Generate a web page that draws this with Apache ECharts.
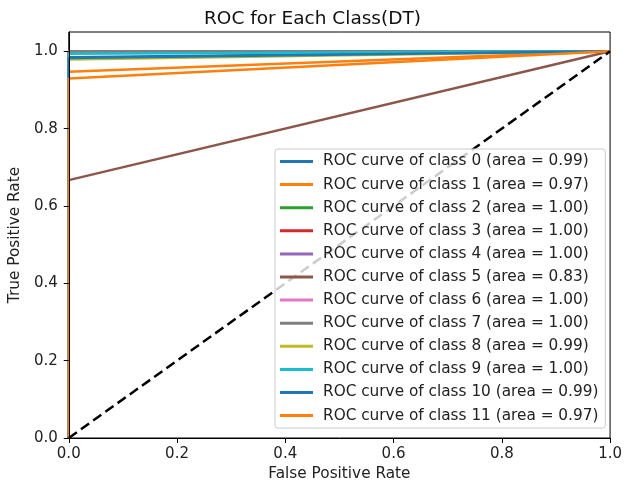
<!DOCTYPE html>
<html><head><meta charset="utf-8">
<script src="https://cdn.jsdelivr.net/npm/echarts@6/dist/echarts.min.js"></script>
<style>html,body{margin:0;padding:0;background:#fff}#c{width:625px;height:489px}</style>
</head><body><div id="c"></div>
<script>
const classNames = ['ROC curve of class 0 (area = 0.99)','ROC curve of class 1 (area = 0.97)','ROC curve of class 2 (area = 1.00)','ROC curve of class 3 (area = 1.00)','ROC curve of class 4 (area = 1.00)','ROC curve of class 5 (area = 0.83)','ROC curve of class 6 (area = 1.00)','ROC curve of class 7 (area = 1.00)','ROC curve of class 8 (area = 0.99)','ROC curve of class 9 (area = 1.00)','ROC curve of class 10 (area = 0.99)','ROC curve of class 11 (area = 0.97)'];
const fprPoints = [0,0,0,0,0,0,0,0,0,0,0,0];
const tprPoints = [0.985,0.947,1.0,1.0,1.0,0.667,1.0,1.0,0.979,0.994,0.983,0.930];
const colors = ['#1f77b4','#ff7f0e','#2ca02c','#d62728','#9467bd','#8c564b','#e377c2','#7f7f7f','#bcbd22','#17becf','#1f77b4','#ff7f0e'];
const xTicks = [0,0.2,0.4,0.6,0.8,1.0];
const yTicks = [0,0.2,0.4,0.6,0.8,1.0];
const diagonal = [[0,0],[1,1]];

const font = 'DejaVu Sans';
const series = classNames.map((n,i)=>({
  name:n, type:'line', symbol:'none', z:2, clip:true,
  data:[[0,0],[fprPoints[i],tprPoints[i]],[1,1]],
  lineStyle:{color:colors[i],width:2.5}, itemStyle:{color:colors[i]}
}));
series.push({name:'diag',type:'line',symbol:'none',z:3,clip:true,data:diagonal,
  lineStyle:{color:'#000',width:2.5,type:[10,5]}});

const axisCommon = {
  type:'value', min:0, splitLine:{show:false}, z:10,
  axisLine:{show:true,onZero:false,lineStyle:{color:'#000',width:1}},
  axisTick:{show:true,length:5,lineStyle:{color:'#000'}},
  axisLabel:{color:'#222',fontFamily:font,fontSize:15,formatter:v=>v.toFixed(1)},
  nameLocation:'middle', nameTextStyle:{color:'#222',fontFamily:font,fontSize:15.3}
};
const chart = echarts.init(document.getElementById('c'),null,{renderer:'canvas'});
chart.setOption({
  animation:false, backgroundColor:'#fff',
  title:{text:'ROC for Each Class(DT)',left:'center',top:5,
    textStyle:{fontFamily:font,fontSize:18.5,fontWeight:'normal',color:'#111'}},
  grid:{left:67,right:12,top:32,bottom:51,show:true,borderColor:'#000',borderWidth:1},
  xAxis:Object.assign({},axisCommon,{max:1,name:'False Positive Rate',nameGap:29,
    axisTick:Object.assign({},axisCommon.axisTick,{customValues:xTicks}),
    axisLabel:Object.assign({},axisCommon.axisLabel,{customValues:xTicks,margin:9})}),
  yAxis:Object.assign({},axisCommon,{max:1.05,name:'True Positive Rate',nameGap:42,
    axisTick:Object.assign({},axisCommon.axisTick,{customValues:yTicks}),
    axisLabel:Object.assign({},axisCommon.axisLabel,{customValues:yTicks,margin:11})}),
  legend:{data:classNames,orient:'vertical',left:275,top:149,
    icon:'rect',itemWidth:33,itemHeight:3,itemGap:7.1,
    padding:[4.5,7,4.5,5],backgroundColor:'rgba(255,255,255,0.8)',
    borderColor:'#ccc',borderWidth:1,borderRadius:3,z:10,
    textStyle:{fontFamily:font,fontSize:15.3,color:'#222',lineHeight:16,padding:[0,0,0,5]}},
  series:series
});
</script></body></html>
